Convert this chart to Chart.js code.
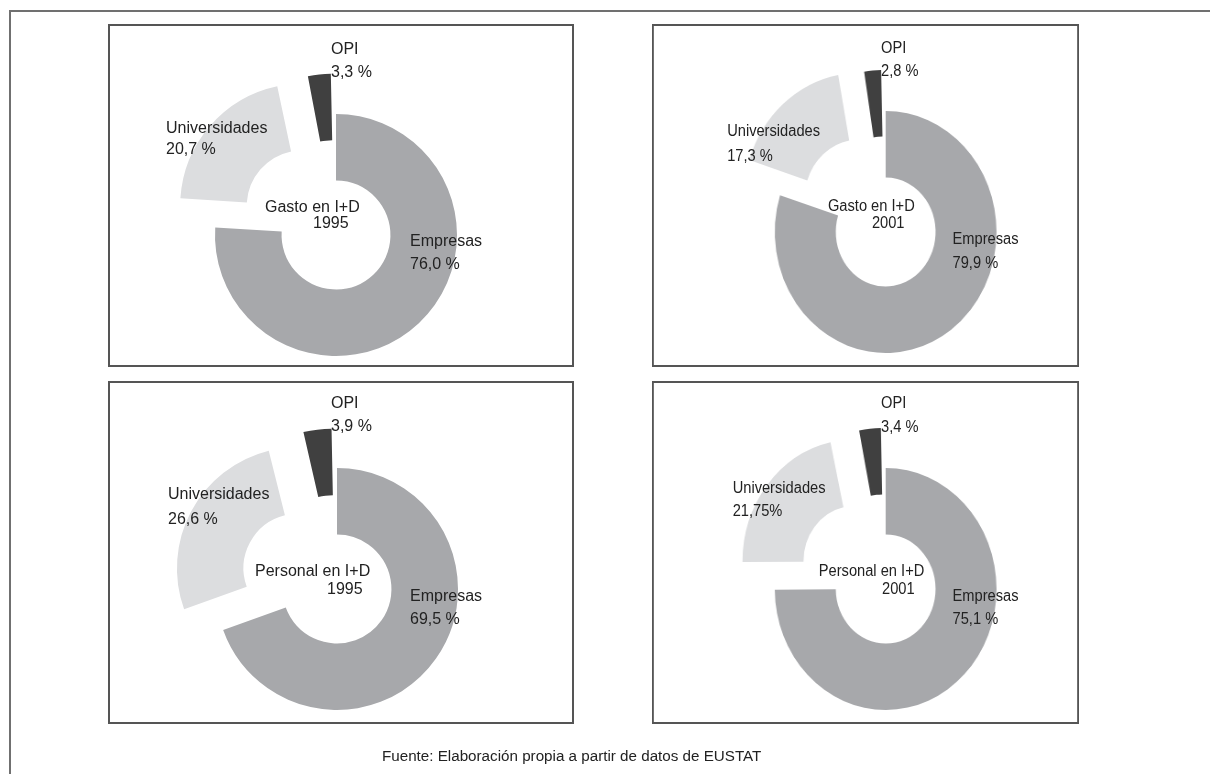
<!DOCTYPE html>
<html lang="es">
<head>
<meta charset="utf-8">
<title>Gasto y personal en I+D</title>
<script src="https://cdn.jsdelivr.net/npm/chart.js@4.4.1/dist/chart.umd.min.js"></script>
<style>
    body {
        margin: 0;
        width: 1210px;
        height: 774px;
        position: relative;
        overflow: hidden;
        background: #fff;
        font-family: "Liberation Sans", Arial, sans-serif;
        color: #222;
    }
    #linea-sup { position: absolute; left: 9px; top: 10px; width: 1201px; border-top: 2px solid #707070; }
    #linea-izq { position: absolute; left: 9px; top: 10px; height: 764px; border-left: 2px solid #707070; }
    .panel {
        position: absolute;
        width: 466px;
        height: 343px;
        box-shadow: inset 0 0 0 2px #555;
        transform-origin: 0 0;
    }
    .panel.derecha { transform: scaleX(0.9163); }
    .panel canvas { position: absolute; }
    .etq { position: absolute; font-size: 16px; line-height: 16px; white-space: nowrap; }
    #fuente { position: absolute; left: 382px; top: 748px; font-size: 15.2px; line-height: 15px; white-space: nowrap; }
</style>
</head>
<body>
<div id="linea-sup"></div>
<div id="linea-izq"></div>

<div class="panel" id="panel-gasto-1995" style="left:108px; top:24px;"></div>
<div class="panel derecha" id="panel-gasto-2001" style="left:652px; top:24px;"></div>
<div class="panel" id="panel-personal-1995" style="left:108px; top:381px;"></div>
<div class="panel derecha" id="panel-personal-2001" style="left:652px; top:381px;"></div>

<div id="fuente">Fuente: Elaboración propia a partir de datos de EUSTAT</div>

<script>
// Reparto por sector de ejecución (%)
const sectores = ["Empresas", "Universidades", "OPI"];
const gasto1995 = [76.0, 20.7, 3.3];
const gasto2001 = [79.9, 17.3, 2.8];
const personal1995 = [69.5, 26.6, 3.9];
const personal2001 = [75.1, 21.75, 3.4];

const coloresSector = ["#a7a8ab", "#dcdddf", "#404040"];

// Formato español: coma decimal; con dos decimales va sin espacio antes del %
function textoValor(v) {
    const unDecimal = Math.abs(v * 10 - Math.round(v * 10)) < 1e-6;
    const s = v.toFixed(unDecimal ? 1 : 2).replace(".", ",");
    return unDecimal ? s + " %" : s + "%";
}

// Posición de cada rótulo dentro de su recuadro (x, y del borde superior)
const paneles = [
    {
        id: "panel-gasto-1995", titulo: "Gasto en I+D", anio: "1995", datos: gasto1995,
        centro: [228, 211],
        rotulos: { Empresas: [302, 211, 234], Universidades: [58, 98, 119], OPI: [223, 19, 42] },
        posTitulo: [157, 177], posAnio: [205, 193]
    },
    {
        id: "panel-gasto-2001", titulo: "Gasto en I+D", anio: "2001", datos: gasto2001,
        centro: [255, 208],
        rotulos: { Empresas: [328, 209, 233], Universidades: [82, 101, 126], OPI: [250, 18, 41] },
        posTitulo: [192, 176], posAnio: [240, 193]
    },
    {
        id: "panel-personal-1995", titulo: "Personal en I+D", anio: "1995", datos: personal1995,
        centro: [229, 208],
        rotulos: { Empresas: [302, 209, 232], Universidades: [60, 107, 132], OPI: [223, 16, 39] },
        posTitulo: [147, 184], posAnio: [219, 202]
    },
    {
        id: "panel-personal-2001", titulo: "Personal en I+D", anio: "2001", datos: personal2001,
        centro: [255, 208],
        rotulos: { Empresas: [328, 209, 232], Universidades: [88, 101, 124], OPI: [250, 16, 40] },
        posTitulo: [182, 184], posAnio: [251, 202]
    }
];

function ponerTexto(contenedor, texto, x, y) {
    const el = document.createElement("div");
    el.className = "etq";
    el.textContent = texto;
    el.style.left = x + "px";
    el.style.top = (y - 2) + "px";
    contenedor.appendChild(el);
}

function crearAnillo(p) {
    const cont = document.getElementById(p.id);
    const ancho = 440, alto = 400;

    const canvas = document.createElement("canvas");
    canvas.width = ancho;
    canvas.height = alto;
    canvas.style.width = ancho + "px";
    canvas.style.height = alto + "px";
    canvas.style.left = (p.centro[0] - ancho / 2) + "px";
    canvas.style.top = (p.centro[1] - alto / 2) + "px";
    cont.appendChild(canvas);

    new Chart(canvas.getContext("2d"), {
        type: "doughnut",
        data: {
            labels: sectores,
            datasets: [{
                data: p.datos,
                backgroundColor: coloresSector,
                borderWidth: 0,
                offset: [0, 176, 90], // Universidades y OPI separados del anillo
                clip: false
            }]
        },
        options: {
            responsive: false,
            maintainAspectRatio: false,
            animation: false,
            events: [],
            radius: 121,
            cutout: "45%",
            rotation: 0,
            layout: { padding: 0 },
            plugins: {
                legend: { display: false },
                tooltip: { enabled: false }
            }
        }
    });

    sectores.forEach((s, i) => {
        const [x, yNombre, yValor] = p.rotulos[s];
        ponerTexto(cont, s, x, yNombre);
        ponerTexto(cont, textoValor(p.datos[i]), x, yValor);
    });
    ponerTexto(cont, p.titulo, p.posTitulo[0], p.posTitulo[1]);
    ponerTexto(cont, p.anio, p.posAnio[0], p.posAnio[1]);
}

paneles.forEach(crearAnillo);
</script>
</body>
</html>
